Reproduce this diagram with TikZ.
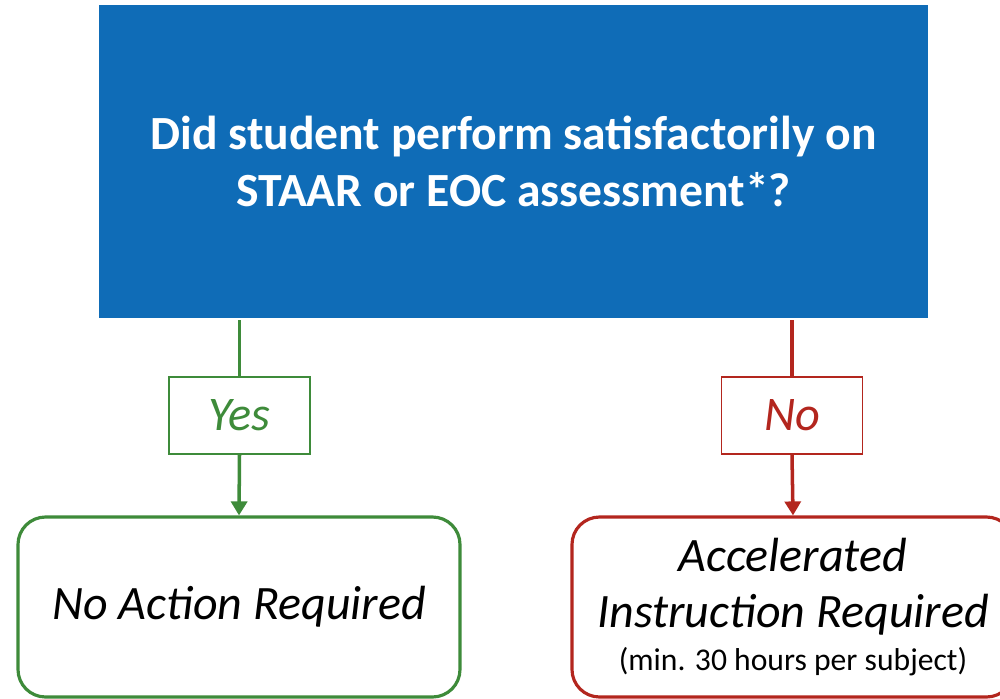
\documentclass[tikz,border=0pt]{standalone}
\usepackage{fontspec}
\setmainfont{Carlito}
\usepackage{tikz}
\usetikzlibrary{shapes,arrows.meta,positioning}
\definecolor{qblue}{HTML}{0F6CB7}
\definecolor{yesgreen}{HTML}{3E8B3A}
\definecolor{nored}{HTML}{B3261E}

\begin{document}
\begin{tikzpicture}[
    question/.style={rectangle, fill=qblue, text=white, minimum width=16.58cm, minimum height=6.26cm, align=center, font=\fontsize{27.1}{32.5}\selectfont\bfseries},
    answer/.style={rectangle, draw, fill=white, line width=0.8pt, minimum width=2.82cm, minimum height=1.54cm, font=\fontsize{27.5}{31}\selectfont\itshape},
    outcome/.style={rectangle, draw, fill=white, line width=1.8pt, rounded corners=0.55cm, minimum width=8.84cm, minimum height=3.6cm, align=center, text=black, font=\fontsize{27.3}{31.5}\selectfont\itshape},
    arrow/.style={line width=2pt, -{Triangle[length=0.28cm, width=0.32cm]}},
    link/.style={line width=2pt}
]
    \useasboundingbox (0,0) rectangle (20,-13.96);

    % frage
    \node[question] (staar) at (10.27, -3.23) {Did student perform satisfactorily on\\STAAR or EOC assessment*?};

    % antworten
    \node[answer, draw=yesgreen, text=yesgreen] (yes) at (4.79, -8.31) {Yes};
    \node[answer, draw=nored, text=nored] (no) at (15.84, -8.31) {No};

    % ergebnisse
    \node[outcome, draw=yesgreen] (noaction) at (4.78, -12.14) {No Action Required};
    \node[outcome, draw=nored] (accel) at (15.86, -12.14) {Accelerated\\Instruction Required\\[-7pt]\fontsize{18}{21}\selectfont\upshape (min. 30 hours per subject)};

    % verbindungen
    \draw[link, yesgreen] ([yshift=-0.04cm]staar.south -| yes.north) -- (yes.north);
    \draw[arrow, yesgreen] (yes.south) -- (noaction.north);
    \draw[link, nored] ([yshift=-0.04cm]staar.south -| no.north) -- (no.north);
    \draw[arrow, nored] (no.south) -- (accel.north);
\end{tikzpicture}
\end{document}
